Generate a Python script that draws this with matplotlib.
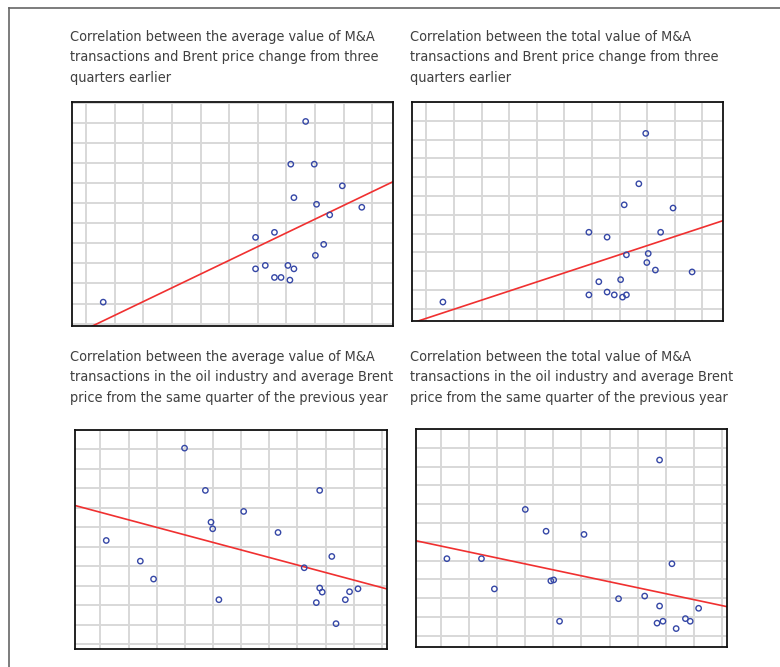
import matplotlib
matplotlib.use("Agg")
import matplotlib.pyplot as plt
import numpy as np

# ---------------- datos (unidades = celdas de la grilla) ----------------
titles = [
    "Correlation between the average value of M&A\ntransactions and Brent price change from three\nquarters earlier",
    "Correlation between the total value of M&A\ntransactions and Brent price change from three\nquarters earlier",
    "Correlation between the average value of M&A\ntransactions in the oil industry and average Brent\nprice from the same quarter of the previous year",
    "Correlation between the total value of M&A\ntransactions in the oil industry and average Brent\nprice from the same quarter of the previous year",
]

x1 = [7.67, 7.15, 7.97, 8.95, 7.26, 8.05, 8.51, 9.63, 6.58, 5.92,
      8.30, 8.01, 5.92, 6.26, 7.05, 7.26, 6.58, 6.81, 7.12, 0.60]
y1 = [10.08, 7.95, 7.95, 6.87, 6.28, 5.95, 5.42, 5.80, 4.55, 4.30,
      3.95, 3.40, 2.73, 2.90, 2.90, 2.73, 2.30, 2.30, 2.17, 1.07]

x2 = [7.95, 7.70, 7.17, 8.94, 5.89, 8.49, 6.55, 7.25, 8.04, 7.99,
      8.30, 9.63, 6.25, 7.04, 5.89, 6.55, 6.81, 7.11, 7.25, 0.60]
y2 = [9.33, 6.65, 5.53, 5.36, 4.07, 4.07, 3.81, 2.87, 2.94, 2.46,
      2.06, 1.96, 1.44, 1.55, 0.74, 0.89, 0.74, 0.62, 0.74, 0.36]

x3 = [2.99, 3.73, 7.79, 5.09, 3.93, 3.99, 6.31, 0.21, 8.22, 1.42,
      7.24, 1.89, 7.79, 7.88, 8.85, 9.15, 4.21, 8.70, 7.67, 8.37]
y3 = [10.07, 7.90, 7.90, 6.82, 6.27, 5.93, 5.74, 5.33, 4.51, 4.27,
      3.93, 3.35, 2.89, 2.68, 2.70, 2.85, 2.29, 2.29, 2.14, 1.06]

x4 = [7.78, 3.00, 3.74, 5.09, 0.21, 1.44, 8.22, 3.91, 4.01, 1.90,
      6.32, 7.25, 7.78, 9.17, 4.22, 7.69, 7.90, 8.70, 8.87, 8.37]
y4 = [9.35, 6.72, 5.56, 5.39, 4.10, 4.10, 3.83, 2.92, 2.97, 2.49,
      1.97, 2.11, 1.58, 1.46, 0.77, 0.67, 0.77, 0.91, 0.77, 0.38]

xs = [x1, x2, x3, x4]
ys = [y1, y2, y3, y4]

# ---------------- layout ----------------
W, H = 780, 667
fig = plt.figure(figsize=(W / 100, H / 100), dpi=100)

# caja de cada panel en pixeles: izq, arriba, der, abajo
cajas = [(72, 102, 393, 326), (412, 102, 723, 321),
         (75, 430, 387, 649), (416, 429, 727, 647)]
limites = [((-0.49, 10.72), (-0.12, 11.05)),
           ((-0.52, 10.75), (-0.65, 10.62)),
           ((-0.90, 10.18), (-0.24, 10.97)),
           ((-0.89, 10.18), (-0.60, 10.60))]
pos_titulo = [(70, 30), (410, 30), (70, 350), (410, 350)]

fuente = ['Liberation Sans Narrow', 'DejaVu Sans']

# marco gris de la pagina
fig.add_artist(plt.Line2D([9 / W, 9 / W], [0, 1 - 8 / H], color='#666666', lw=1.2))
fig.add_artist(plt.Line2D([9 / W, 1], [1 - 8 / H, 1 - 8 / H], color='#666666', lw=1.2))

for i in range(4):
    l, t, r, b = cajas[i]
    ax = fig.add_axes([l / W, 1 - b / H, (r - l) / W, (b - t) / H])
    xl, yl = limites[i]
    ax.set_xlim(xl)
    ax.set_ylim(yl)
    ax.set_xticks(np.arange(0, 11))
    ax.set_yticks(np.arange(0, 12))
    ax.grid(True, color='#d8d8d8', lw=1.4)
    ax.set_axisbelow(True)
    ax.tick_params(length=0, labelbottom=False, labelleft=False)
    for s in ax.spines.values():
        s.set_color('#111111')
        s.set_linewidth(1.3)

    x = np.array(xs[i]); y = np.array(ys[i])
    ax.scatter(x, y, s=15, facecolors='none', edgecolors='#3547a6', linewidths=1.0, zorder=3)

    # recta de regresion
    m, c = np.polyfit(x, y, 1)
    xx = np.array(xl)
    ax.plot(xx, m * xx + c, color='#f03030', lw=1.2, zorder=2)

    tx, ty = pos_titulo[i]
    fig.text(tx / W, 1 - ty / H, titles[i], family=fuente, fontstretch='condensed',
             fontsize=10.4, color='#404040', va='top', ha='left', linespacing=1.58)

fig.savefig("out.png", dpi=100)
